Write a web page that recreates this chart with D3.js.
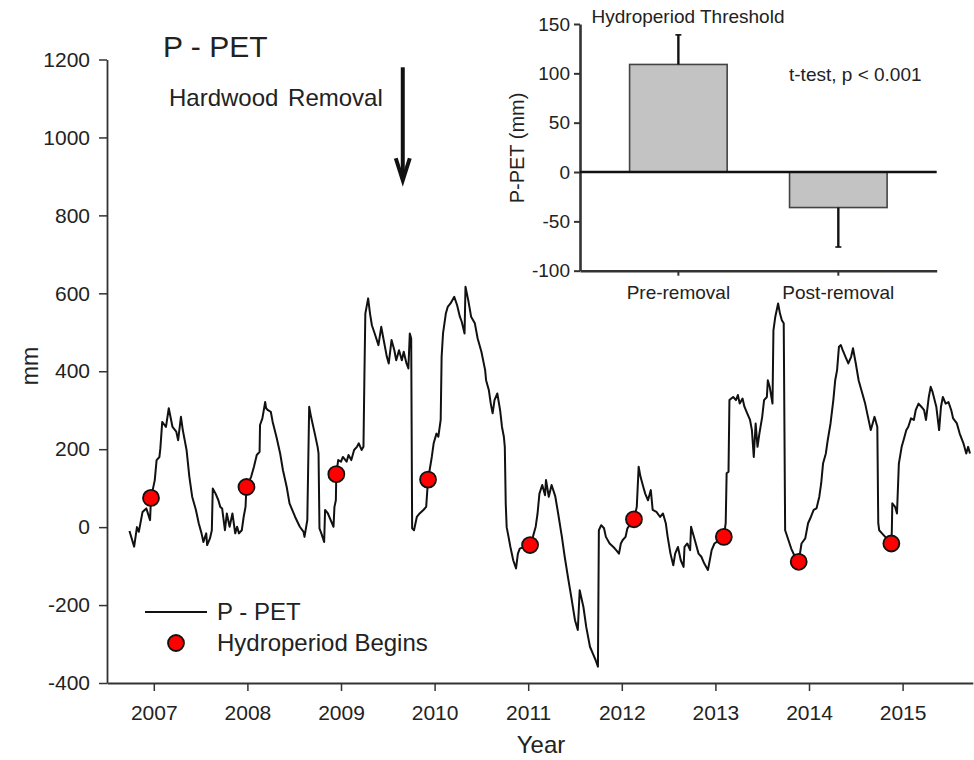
<!DOCTYPE html>
<html>
<head>
<meta charset="utf-8">
<script src="https://cdn.jsdelivr.net/npm/d3@7"></script>
<style>
    body { margin: 0; background: #fff; }
    svg text { font-family: "Liberation Sans", Arial, sans-serif; fill: #222; }
    .axis path, .axis line { stroke: #333; }
</style>
</head>
<body>
<div id="chart"></div>
<script>
// P - PET 时间序列 (decimal year, mm)
const ppetSeries = [
    [2006.74, -10], [2006.79, -50], [2006.82, 0], [2006.84, -12], [2006.88, 39], [2006.92, 48],
    [2006.96, 18], [2006.97, 75], [2007.01, 120], [2007.03, 172], [2007.06, 180], [2007.07, 202],
    [2007.09, 270], [2007.13, 257], [2007.16, 305], [2007.20, 257], [2007.24, 245], [2007.26, 223],
    [2007.29, 283], [2007.31, 249], [2007.35, 198], [2007.38, 129], [2007.41, 78], [2007.45, 44],
    [2007.48, 10], [2007.51, -16], [2007.53, -38], [2007.56, -16], [2007.57, -46], [2007.60, -29],
    [2007.62, -8], [2007.63, 99], [2007.66, 86], [2007.69, 69], [2007.71, 52], [2007.73, 48],
    [2007.76, -8], [2007.78, 35], [2007.81, 1], [2007.84, 35], [2007.87, -16], [2007.89, 1],
    [2007.91, -16], [2007.94, -8], [2007.96, 26], [2007.98, 52], [2007.99, 103], [2008.04, 129],
    [2008.07, 155], [2008.10, 185], [2008.13, 193], [2008.135, 262], [2008.16, 279], [2008.19, 321],
    [2008.20, 305], [2008.22, 300], [2008.25, 296], [2008.27, 270], [2008.31, 232], [2008.35, 189],
    [2008.38, 146], [2008.42, 103], [2008.45, 61], [2008.51, 26], [2008.56, 1], [2008.60, -12],
    [2008.61, -25], [2008.64, 18], [2008.66, 309], [2008.68, 283], [2008.72, 240], [2008.75, 206],
    [2008.76, 189], [2008.77, -3], [2008.79, -16], [2008.82, -38], [2008.83, 44], [2008.86, 35],
    [2008.89, 18], [2008.92, 1], [2008.93, 52], [2008.945, 69], [2008.95, 136], [2008.97, 172],
    [2009.00, 168], [2009.02, 180], [2009.06, 168], [2009.08, 185], [2009.11, 172], [2009.14, 198],
    [2009.17, 206], [2009.19, 215], [2009.22, 198], [2009.24, 206], [2009.25, 386], [2009.26, 548],
    [2009.29, 587], [2009.31, 548], [2009.33, 518], [2009.36, 497], [2009.40, 467], [2009.43, 514],
    [2009.45, 488], [2009.49, 437], [2009.51, 420], [2009.54, 480], [2009.57, 454], [2009.59, 428],
    [2009.62, 454], [2009.65, 428], [2009.67, 450], [2009.70, 420], [2009.72, 407], [2009.735, 497],
    [2009.75, 484], [2009.76, -3], [2009.78, -8], [2009.81, 26], [2009.84, 35], [2009.88, 44],
    [2009.91, 52], [2009.93, 122], [2009.97, 180], [2009.99, 215], [2010.02, 240], [2010.04, 232],
    [2010.065, 275], [2010.075, 437], [2010.09, 497], [2010.12, 548], [2010.14, 565], [2010.17, 574],
    [2010.21, 591], [2010.24, 570], [2010.27, 540], [2010.29, 527], [2010.32, 497], [2010.33, 617],
    [2010.36, 582], [2010.39, 540], [2010.43, 523], [2010.46, 484], [2010.50, 450], [2010.54, 403],
    [2010.55, 377], [2010.58, 351], [2010.60, 317], [2010.62, 292], [2010.64, 326], [2010.67, 343],
    [2010.70, 300], [2010.72, 257], [2010.74, 232], [2010.75, 206], [2010.76, 60], [2010.77, 0],
    [2010.79, -25], [2010.81, -51], [2010.84, -85], [2010.87, -106], [2010.89, -68], [2010.91, -55],
    [2010.96, -50], [2011.02, -46], [2011.05, -25], [2011.08, 1], [2011.10, 35], [2011.12, 86],
    [2011.15, 108], [2011.18, 82], [2011.19, 121], [2011.22, 78], [2011.25, 108], [2011.28, 86],
    [2011.29, 78], [2011.32, 35], [2011.36, -25], [2011.39, -76], [2011.43, -136], [2011.46, -179],
    [2011.50, -239], [2011.53, -264], [2011.55, -162], [2011.59, -205], [2011.62, -256], [2011.66, -307],
    [2011.69, -324], [2011.72, -341], [2011.745, -358], [2011.755, -8], [2011.78, 5], [2011.81, -3],
    [2011.83, -25], [2011.87, -42], [2011.91, -51], [2011.94, -59], [2011.97, -68], [2011.99, -42],
    [2012.01, -33], [2012.04, -25], [2012.06, -3], [2012.13, 20], [2012.16, 52], [2012.18, 155],
    [2012.20, 129], [2012.23, 103], [2012.25, 86], [2012.28, 69], [2012.31, 95], [2012.33, 44],
    [2012.37, 39], [2012.41, 26], [2012.44, 35], [2012.47, 10], [2012.49, -25], [2012.52, -68],
    [2012.55, -98], [2012.57, -68], [2012.60, -51], [2012.63, -85], [2012.66, -102], [2012.67, -51],
    [2012.70, -42], [2012.73, -59], [2012.74, 1], [2012.78, -33], [2012.82, -68], [2012.85, -76],
    [2012.88, -93], [2012.92, -110], [2012.94, -85], [2012.96, -59], [2012.99, -42], [2013.09, -25],
    [2013.11, 10], [2013.12, 138], [2013.14, 142], [2013.15, 326], [2013.19, 334], [2013.22, 326],
    [2013.24, 339], [2013.26, 317], [2013.29, 330], [2013.31, 309], [2013.34, 292], [2013.37, 275],
    [2013.39, 249], [2013.41, 180], [2013.43, 266], [2013.45, 206], [2013.47, 240], [2013.50, 283],
    [2013.52, 326], [2013.55, 334], [2013.56, 377], [2013.58, 360], [2013.61, 317], [2013.62, 505],
    [2013.64, 540], [2013.67, 574], [2013.69, 548], [2013.71, 531], [2013.73, 523], [2013.745, -8],
    [2013.78, -33], [2013.81, -55], [2013.85, -76], [2013.89, -89], [2013.92, -42], [2013.96, -29],
    [2013.99, 10], [2014.02, 26], [2014.05, 44], [2014.08, 48], [2014.11, 78], [2014.13, 112],
    [2014.15, 163], [2014.18, 189], [2014.20, 223], [2014.23, 266], [2014.26, 326], [2014.28, 377],
    [2014.30, 403], [2014.32, 463], [2014.34, 467], [2014.36, 454], [2014.39, 437], [2014.42, 420],
    [2014.45, 437], [2014.47, 459], [2014.50, 420], [2014.53, 377], [2014.56, 351], [2014.60, 317],
    [2014.63, 283], [2014.66, 249], [2014.68, 266], [2014.70, 283], [2014.73, 257], [2014.74, 10],
    [2014.75, -8], [2014.78, -16], [2014.88, -42], [2014.885, -8], [2014.89, 61], [2014.92, 52],
    [2014.94, 35], [2014.96, 163], [2014.99, 206], [2015.01, 223], [2015.04, 249], [2015.06, 257],
    [2015.09, 279], [2015.12, 275], [2015.14, 300], [2015.17, 317], [2015.20, 309], [2015.23, 300],
    [2015.25, 275], [2015.28, 334], [2015.30, 360], [2015.32, 347], [2015.36, 309], [2015.39, 249],
    [2015.41, 309], [2015.43, 334], [2015.46, 317], [2015.49, 321], [2015.52, 300], [2015.54, 279],
    [2015.58, 266], [2015.61, 240], [2015.65, 215], [2015.68, 189], [2015.70, 206], [2015.72, 189]
];

// Hydroperiod 开始点
const hydroBegins = [
    [2006.97, 75], [2007.99, 103], [2008.95, 136], [2009.93, 122], [2011.02, -46],
    [2012.13, 20], [2013.09, -25], [2013.89, -89], [2014.88, -42]
];

const yearTicks = [2007, 2008, 2009, 2010, 2011, 2012, 2013, 2014, 2015];
const mmTicks = [-400, -200, 0, 200, 400, 600, 800, 1000, 1200];

// 伐木时间和箭头范围
const removalYear = 2009.66;
const removalArrow = [1180, 885];

// 插图: 柱状图
const barCategories = ['Pre-removal', 'Post-removal'];
const barMeans = [109, -36];
const barErrors = [30, 40];
const insetTicks = [-100, -50, 0, 50, 100, 150];

// 用普通连字符作负号
const plainFormat = d => String(d);

class PetChart {
    constructor(container) {
        this.container = container;
        this.width = 974;
        this.height = 760;
        this.init();
    }

    init() {
        this.svg = d3.select(this.container)
            .append('svg')
            .attr('width', this.width)
            .attr('height', this.height);

        this.x = d3.scaleLinear().domain([2006.5, 2015.75]).range([107, 972.8]);
        this.y = d3.scaleLinear().domain([-400, 1200]).range([683, 59.5]);

        this.drawAxes();
        this.drawSeries();
        this.drawAnnotations();
        this.drawLegend();
        this.drawInset();
    }

    drawAxes() {
        const xAxis = d3.axisBottom(this.x)
            .tickValues(yearTicks)
            .tickFormat(plainFormat)
            .tickSize(8)
            .tickSizeOuter(0)
            .tickPadding(14);

        const yAxis = d3.axisLeft(this.y)
            .tickValues(mmTicks)
            .tickFormat(plainFormat)
            .tickSize(8)
            .tickSizeOuter(0)
            .tickPadding(9);

        const gx = this.svg.append('g')
            .attr('class', 'axis')
            .attr('transform', `translate(0,${this.y.range()[0]})`)
            .call(xAxis);

        const gy = this.svg.append('g')
            .attr('class', 'axis')
            .attr('transform', `translate(${this.x.range()[0]},0)`)
            .call(yAxis);

        [gx, gy].forEach(g => {
            g.select('.domain').attr('stroke-width', 1.8);
            g.selectAll('.tick line').attr('stroke-width', 1.5);
            g.selectAll('text')
                .attr('font-size', 21)
                .attr('font-family', '"Liberation Sans", Arial, sans-serif')
                .attr('fill', '#222');
        });

        this.svg.append('text')
            .attr('x', 541)
            .attr('y', 753)
            .attr('text-anchor', 'middle')
            .attr('font-size', 24)
            .text('Year');

        this.svg.append('text')
            .attr('transform', 'translate(38,366) rotate(-90)')
            .attr('text-anchor', 'middle')
            .attr('font-size', 23)
            .text('mm');
    }

    drawSeries() {
        const line = d3.line()
            .x(d => this.x(d[0]))
            .y(d => this.y(d[1]));

        this.svg.append('path')
            .datum(ppetSeries)
            .attr('fill', 'none')
            .attr('stroke', '#111')
            .attr('stroke-width', 2)
            .attr('stroke-linejoin', 'round')
            .attr('d', line);

        this.svg.selectAll('.hydro')
            .data(hydroBegins)
            .enter()
            .append('circle')
            .attr('class', 'hydro')
            .attr('cx', d => this.x(d[0]))
            .attr('cy', d => this.y(d[1]))
            .attr('r', 8)
            .attr('fill', '#ff0000')
            .attr('stroke', '#111')
            .attr('stroke-width', 1.8);
    }

    drawAnnotations() {
        this.svg.append('text')
            .attr('x', 163)
            .attr('y', 57)
            .attr('font-size', 30)
            .text('P - PET');

        this.svg.append('text')
            .attr('x', 169)
            .attr('y', 106)
            .attr('font-size', 24)
            .attr('word-spacing', 3)
            .text('Hardwood Removal');

        // 伐木箭头
        const ax = this.x(removalYear);
        const yTop = this.y(removalArrow[0]);
        const yTip = this.y(removalArrow[1]);

        this.svg.append('line')
            .attr('x1', ax).attr('x2', ax)
            .attr('y1', yTop).attr('y2', yTip - 4)
            .attr('stroke', '#111')
            .attr('stroke-width', 4);

        this.svg.append('path')
            .attr('d', `M${ax - 7},${yTip - 24}L${ax},${yTip - 2}L${ax + 7},${yTip - 24}`)
            .attr('fill', 'none')
            .attr('stroke', '#111')
            .attr('stroke-width', 4)
            .attr('stroke-linejoin', 'miter');
    }

    drawLegend() {
        const lg = this.svg.append('g').attr('class', 'legend');

        lg.append('line')
            .attr('x1', 145).attr('x2', 207)
            .attr('y1', 612).attr('y2', 612)
            .attr('stroke', '#111')
            .attr('stroke-width', 1.8);

        lg.append('text')
            .attr('x', 217)
            .attr('y', 620)
            .attr('font-size', 24)
            .text('P - PET');

        lg.append('circle')
            .attr('cx', 176).attr('cy', 643)
            .attr('r', 8)
            .attr('fill', '#ff0000')
            .attr('stroke', '#111')
            .attr('stroke-width', 1.8);

        lg.append('text')
            .attr('x', 217)
            .attr('y', 651)
            .attr('font-size', 24)
            .text('Hydroperiod Begins');
    }

    drawInset() {
        const g = this.svg.append('g').attr('class', 'inset');

        const bx = d3.scaleBand()
            .domain(barCategories)
            .range([580, 936.7])
            .paddingInner(0.39)
            .paddingOuter(0.31);

        const by = d3.scaleLinear().domain([-100, 150]).range([270.7, 24]);

        // 柱子
        g.selectAll('.bar')
            .data(barCategories)
            .enter()
            .append('rect')
            .attr('class', 'bar')
            .attr('x', d => bx(d))
            .attr('width', bx.bandwidth())
            .attr('y', (d, i) => by(Math.max(0, barMeans[i])))
            .attr('height', (d, i) => Math.abs(by(barMeans[i]) - by(0)))
            .attr('fill', '#c3c3c3')
            .attr('stroke', '#444')
            .attr('stroke-width', 1.6);

        // 误差线 (单侧)
        barCategories.forEach((c, i) => {
            const cx = bx(c) + bx.bandwidth() / 2;
            const sign = barMeans[i] >= 0 ? 1 : -1;
            const yEnd = by(barMeans[i] + sign * barErrors[i]);
            g.append('line')
                .attr('x1', cx).attr('x2', cx)
                .attr('y1', by(barMeans[i])).attr('y2', yEnd)
                .attr('stroke', '#111')
                .attr('stroke-width', 2.4);
            g.append('line')
                .attr('x1', cx - 3).attr('x2', cx + 3)
                .attr('y1', yEnd).attr('y2', yEnd)
                .attr('stroke', '#111')
                .attr('stroke-width', 1.6);
        });

        const yAxis = d3.axisLeft(by)
            .tickValues(insetTicks)
            .tickFormat(plainFormat)
            .tickSize(6)
            .tickSizeOuter(0)
            .tickPadding(4);

        const gy = g.append('g')
            .attr('class', 'axis')
            .attr('transform', `translate(${bx.range()[0]},0)`)
            .call(yAxis);

        const xAxis = d3.axisBottom(bx)
            .tickSize(5)
            .tickSizeOuter(0)
            .tickPadding(10);

        const gx = g.append('g')
            .attr('class', 'axis')
            .attr('transform', `translate(0,${by(-100)})`)
            .call(xAxis);

        [gx, gy].forEach(a => {
            a.select('.domain').attr('stroke', '#111').attr('stroke-width', 2.6);
            a.selectAll('.tick line').attr('stroke', '#111').attr('stroke-width', 2);
            a.selectAll('text')
                .attr('font-size', 19)
                .attr('font-family', '"Liberation Sans", Arial, sans-serif')
                .attr('fill', '#222');
        });

        // 零线
        g.append('line')
            .attr('x1', bx.range()[0]).attr('x2', bx.range()[1])
            .attr('y1', by(0)).attr('y2', by(0))
            .attr('stroke', '#111')
            .attr('stroke-width', 2.6);

        g.append('text')
            .attr('x', 688)
            .attr('y', 23)
            .attr('text-anchor', 'middle')
            .attr('font-size', 19)
            .text('Hydroperiod Threshold');

        g.append('text')
            .attr('x', 789)
            .attr('y', 81)
            .attr('font-size', 19)
            .text('t-test, p < 0.001');

        g.append('text')
            .attr('transform', 'translate(524,148) rotate(-90)')
            .attr('text-anchor', 'middle')
            .attr('font-size', 20)
            .text('P-PET (mm)');
    }
}

new PetChart(document.getElementById('chart'));
</script>
</body>
</html>
